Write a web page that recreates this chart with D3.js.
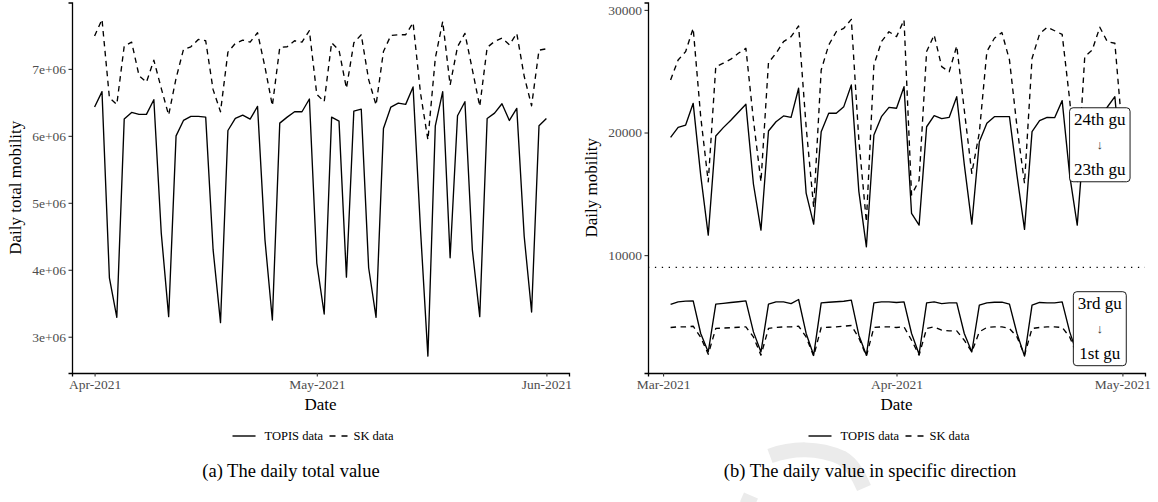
<!DOCTYPE html>
<html>
<head>
<meta charset="utf-8">
<script src="https://cdnjs.cloudflare.com/ajax/libs/d3/7.8.5/d3.min.js"></script>
<style>
  html, body { margin: 0; padding: 0; background: #fff; }
  svg { display: block; font-family: "Liberation Serif", "DejaVu Serif", serif; }
</style>
</head>
<body>
<svg id="chart" width="1158" height="502"></svg>
<script>
// ---- data ----
const leftStart  = Date.UTC(2021, 3, 1);   // 1 Apr 2021, daily to 1 Jun 2021
const rightStart = Date.UTC(2021, 2, 2);   // 2 Mar 2021, daily to 1 May 2021

const totalTopis = [6.43e6, 6.66e6, 3.88e6, 3.29e6, 6.25e6, 6.35e6, 6.32e6, 6.32e6, 6.54e6, 4.55e6,
  3.30e6, 6.00e6, 6.23e6, 6.29e6, 6.29e6, 6.28e6, 4.30e6, 3.21e6, 6.08e6, 6.26e6,
  6.31e6, 6.25e6, 6.44e6, 4.45e6, 3.25e6, 6.19e6, 6.28e6, 6.36e6, 6.36e6, 6.55e6,
  4.10e6, 3.34e6, 6.28e6, 6.22e6, 3.89e6, 6.37e6, 6.40e6, 4.03e6, 3.29e6, 6.11e6,
  6.43e6, 6.49e6, 6.47e6, 6.73e6, 4.60e6, 2.71e6, 6.15e6, 6.66e6, 4.18e6, 6.30e6,
  6.51e6, 4.30e6, 3.30e6, 6.26e6, 6.34e6, 6.48e6, 6.23e6, 6.41e6, 4.50e6, 3.37e6,
  6.15e6, 6.26e6];
const totalSk = [7.49e6, 7.74e6, 6.57e6, 6.47e6, 7.34e6, 7.40e6, 6.90e6, 6.80e6, 7.13e6, 6.71e6,
  6.31e6, 6.86e6, 7.29e6, 7.33e6, 7.44e6, 7.42e6, 6.69e6, 6.36e6, 7.25e6, 7.38e6,
  7.43e6, 7.40e6, 7.54e6, 7.03e6, 6.45e6, 7.32e6, 7.33e6, 7.42e6, 7.40e6, 7.57e6,
  6.62e6, 6.51e6, 7.39e6, 7.28e6, 6.71e6, 7.39e6, 7.51e6, 6.84e6, 6.46e6, 7.26e6,
  7.50e6, 7.51e6, 7.51e6, 7.69e6, 6.64e6, 5.94e6, 7.16e6, 7.71e6, 6.76e6, 7.33e6,
  7.53e6, 6.99e6, 6.44e6, 7.32e6, 7.41e6, 7.46e6, 7.36e6, 7.53e6, 6.89e6, 6.45e6,
  7.28e6, 7.30e6];

// 24th gu -> 23th gu
const upperTopis = [19600, 20420, 20610, 22380, 16500, 11630, 19710, 20400, 21000, 21650,
  22300, 15800, 12040, 20120, 20880, 21350, 21240, 23610, 15060, 12530,
  20070, 21570, 21570, 22110, 23880, 15200, 10680, 19800, 21290, 22050,
  21980, 23740, 13400, 12450, 20470, 21370, 21130, 21240, 22920, 17400,
  12530, 19250, 20750, 21290, 21290, 21290, 16500, 12100, 20070, 20970,
  21240, 21210, 22600, 16500, 12450, 20300, 21000, 21300, 22080, 22920, 16000];
const upperSk = [24290, 25920, 26600, 28500, 21290, 15980, 25370, 25650, 25980, 26460,
  26870, 21020, 15980, 25700, 26460, 27410, 27820, 28690, 20470, 13900,
  25100, 27140, 28220, 28500, 29230, 19390, 12700, 25510, 27410, 28220,
  27820, 29180, 14900, 16100, 26600, 27960, 25370, 24960, 27060, 21840,
  16670, 20000, 26600, 27690, 28150, 25920, 20470, 15850, 26050, 28040,
  28590, 28300, 28000, 22650, 16000, 26190, 26730, 28590, 27410, 27280, 20000];
// 3rd gu -> 1st gu
const lowerTopis = [5976, 6190, 6245, 6270, 3610, 2100, 6000, 6070, 6140, 6200,
  6270, 3740, 2100, 6000, 6190, 6190, 6050, 6380, 3610, 1840,
  6110, 6160, 6200, 6240, 6330, 3470, 1840, 6110, 6190, 6190,
  6140, 6190, 3610, 1920, 6110, 6190, 6050, 6110, 6110, 3610,
  2100, 5920, 6110, 6160, 6160, 6000, 3610, 1760, 5920, 6140,
  6110, 6110, 6190, 3740, 1900, 6000, 6150, 6150, 6200, 6250, 3600];
const lowerSk = [4095, 4150, 4150, 4200, 3300, 1920, 4020, 4050, 4080, 4120,
  4150, 3330, 1840, 4020, 4100, 4150, 4150, 4200, 3330, 1760,
  4100, 4120, 4150, 4200, 4260, 3250, 1760, 4100, 4150, 4150,
  4100, 4150, 3060, 1840, 4020, 4150, 3880, 3820, 3820, 3060,
  2100, 3740, 4100, 4150, 4150, 4020, 3330, 1840, 4020, 4100,
  4150, 4150, 4100, 3330, 1850, 4000, 4100, 4150, 4150, 4100, 3300];

const leftYTicks  = [3e6, 4e6, 5e6, 6e6, 7e6];
const rightYTicks = [10000, 20000, 30000];
const leftXTicks  = ['2021-04-01', '2021-05-01', '2021-06-01'];
const rightXTicks = ['2021-03-01', '2021-04-01', '2021-05-01'];
const dividerValue = 9000;
const boxLabels = [
  { date: '2021-04-28', value: 19000, lines: ['24th gu', '\u2193', '23th gu'] },
  { date: '2021-04-28', value: 4000,  lines: ['3rd gu', '\u2193', '1st gu'] }
];
const seriesNames = ['TOPIS data', 'SK data'];

// ---- helpers ----
const svg = d3.select('#chart');
const DASH = '5.5,4.5';

// faint grey watermark stroke seen behind the captions
svg.append('path')
  .attr('d', 'M770,456 C792,448 818,447 842,458 C852,464 858,474 864,488')
  .attr('fill', 'none').attr('stroke', '#ebebeb').attr('stroke-width', 15);
svg.append('path')
  .attr('d', 'M742,497 L756,503')
  .attr('fill', 'none').attr('stroke', '#ebebeb').attr('stroke-width', 10);

function days(start, n) {
  return d3.range(n).map(i => d3.utcDay.offset(new Date(start), i));
}

// ggplot-like 5% expansion
function expand(lo, hi) {
  const p = (hi - lo) * 0.05;
  return [lo - p, hi + p];
}

function drawPanel(cfg) {
  const { x0, x1, y0, y1 } = cfg;
  const g = svg.append('g');
  const allDates = cfg.series.flatMap(s => s.dates);
  const allVals  = cfg.series.flatMap(s => s.values);
  const [dLo, dHi] = d3.extent(allDates).map(d => +d);
  const [vLo, vHi] = d3.extent(allVals);

  const x = d3.scaleUtc().domain(expand(dLo, dHi)).range([x0, x1]);
  const y = d3.scaleLinear().domain(expand(vLo, vHi)).range([y1, y0]);

  if (cfg.hline != null) {
    g.append('line')
      .attr('x1', x0).attr('x2', x1)
      .attr('y1', y(cfg.hline)).attr('y2', y(cfg.hline))
      .attr('stroke', '#000').attr('stroke-width', 1.3)
      .attr('stroke-dasharray', '1.3,5.6');
  }

  const line = d3.line().x(d => x(d[0])).y(d => y(d[1]));
  cfg.series.forEach(s => {
    g.append('path')
      .datum(d3.zip(s.dates, s.values))
      .attr('d', line)
      .attr('fill', 'none')
      .attr('stroke', '#000')
      .attr('stroke-width', 1.35)
      .attr('stroke-linejoin', 'round')
      .attr('stroke-dasharray', s.dashed ? DASH : null);
  });

  // label boxes
  (cfg.boxes || []).forEach(b => {
    const cx = x(new Date(b.date)), cy = y(b.value);
    const bg = g.append('g');
    const rect = bg.append('rect');
    const gap = 25;
    const txt = b.lines.map((t, i) => bg.append('text')
      .attr('x', cx).attr('y', cy + (i - 1) * gap)
      .attr('text-anchor', 'middle')
      .attr('dominant-baseline', 'central')
      .attr('font-size', i === 1 ? 13 : 17)
      .attr('fill', i === 1 ? '#333' : '#000')
      .text(t));
    const w = d3.max(txt, t => t.node().getComputedTextLength()) + 9;
    const h = gap * 2 + 24;
    rect.attr('x', cx - w / 2).attr('y', cy - h / 2)
      .attr('width', w).attr('height', h)
      .attr('rx', 3.5)
      .attr('fill', '#fff').attr('stroke', '#000').attr('stroke-width', 0.9);
  });

  // axes
  const ax = g.append('g')
    .attr('transform', `translate(0,${y1})`)
    .call(d3.axisBottom(x)
      .tickValues(cfg.xTicks.map(d => new Date(d)))
      .tickFormat(d3.utcFormat('%b-%Y'))
      .tickSizeOuter(0).tickSize(3.5).tickPadding(2.5));
  const ay = g.append('g')
    .attr('transform', `translate(${x0},0)`)
    .call(d3.axisLeft(y)
      .tickValues(cfg.yTicks)
      .tickFormat(cfg.yFormat)
      .tickSizeOuter(0).tickSize(3.5).tickPadding(2.5));
  [ax, ay].forEach(a => {
    a.select('.domain').attr('stroke', '#000').attr('stroke-width', 1.3);
    a.selectAll('.tick line').attr('stroke', '#333').attr('stroke-width', 1.1);
    a.selectAll('.tick text')
      .attr('fill', '#4d4d4d')
      .attr('font-size', 13.5)
      .attr('font-family', '"Liberation Serif", serif');
  });

  // titles
  const mx = (x0 + x1) / 2;
  g.append('text')
    .attr('x', mx).attr('y', 410)
    .attr('text-anchor', 'middle')
    .attr('font-size', 17)
    .text('Date');
  g.append('text')
    .attr('transform', `translate(${cfg.yTitleX},${(y0 + y1) / 2}) rotate(-90)`)
    .attr('text-anchor', 'middle')
    .attr('font-size', 17)
    .text(cfg.yTitle);

  // legend
  const lg = g.append('g').attr('transform', `translate(${mx - 88},436)`);
  lg.append('line').attr('x1', 0).attr('x2', 23).attr('stroke', '#000').attr('stroke-width', 1.4);
  lg.append('text').attr('x', 32).attr('y', 4).attr('font-size', 12.5).text(seriesNames[0]);
  lg.append('line').attr('x1', 97).attr('x2', 116).attr('stroke', '#000').attr('stroke-width', 1.4)
    .attr('stroke-dasharray', '6,6');
  lg.append('text').attr('x', 121).attr('y', 4).attr('font-size', 12.5).text(seriesNames[1]);

  // caption
  svg.append('text')
    .attr('x', cfg.captionX).attr('y', 477)
    .attr('text-anchor', 'middle')
    .attr('font-size', 18.5)
    .text(cfg.caption);
}

const ld = days(leftStart, totalTopis.length);
const rd = days(rightStart, upperTopis.length);

drawPanel({
  x0: 72, x1: 569, y0: 2.5, y1: 373,
  series: [
    { dates: ld, values: totalTopis, dashed: false },
    { dates: ld, values: totalSk, dashed: true }
  ],
  xTicks: leftXTicks, yTicks: leftYTicks,
  yFormat: v => (v / 1e6) + 'e+06',
  yTitle: 'Daily total mobility', yTitleX: 21,
  caption: '(a) The daily total value', captionX: 291
});

drawPanel({
  x0: 648, x1: 1145, y0: 2.5, y1: 373,
  series: [
    { dates: rd, values: upperTopis, dashed: false },
    { dates: rd, values: upperSk, dashed: true },
    { dates: rd, values: lowerTopis, dashed: false },
    { dates: rd, values: lowerSk, dashed: true }
  ],
  hline: dividerValue, boxes: boxLabels,
  xTicks: rightXTicks, yTicks: rightYTicks,
  yFormat: d3.format('d'),
  yTitle: 'Daily mobility', yTitleX: 597,
  caption: '(b) The daily value in specific direction', captionX: 870
});
</script>
</body>
</html>
